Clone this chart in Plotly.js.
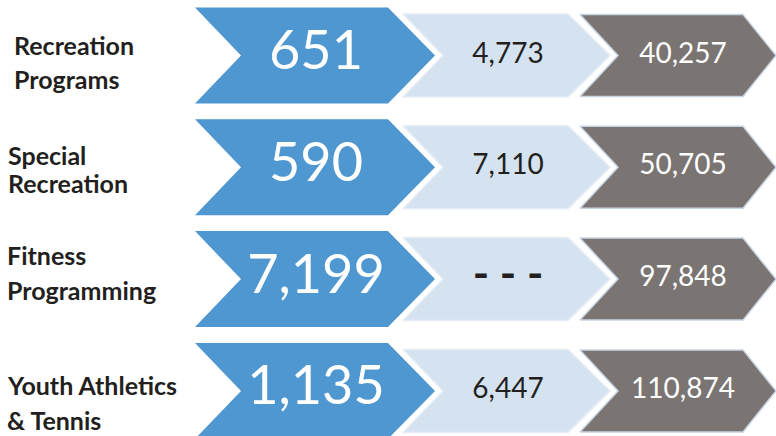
<!DOCTYPE html>
<html>
<head>
<meta charset="utf-8">
<script src="https://cdn.plot.ly/plotly-3.0.1.min.js"></script>
<style>
html,body{margin:0;padding:0;background:#fff;}
#chart{width:776px;height:436px;}
</style>
</head>
<body>
<div id="chart"></div>
<script>
// ---- data ----
var categories = ["Recreation<br>Programs", "Special<br>Recreation", "Fitness<br>Programming", "Youth Athletics<br>& Tennis"];
var stage1 = [651, 590, 7199, 1135];
var stage2 = [4773, 7110, null, 6447];
var stage3 = [40257, 50705, 97848, 110874];

// ---- layout constants (geometry / style, not data) ----
var W = 776, H = 436;
var row0 = 55.5, pitch = 111.8;
// column chevron geometry: left x, notch depth, body right x, tip x, half height
var cols = [
  {x0: 195, notch: 46, x1: 388, tip: 435, hh: 48, fill: '#4F97D1', line: '#4F97D1', lw: 0},
  {x0: 403, notch: 40, x1: 568, tip: 610, hh: 41.5, fill: '#D5E2F0', line: '#E6EDF6', lw: 1.5},
  {x0: 580, notch: 38, x1: 743, tip: 776, hh: 41, fill: '#7A7472', line: '#C9D4E2', lw: 1.5}
];
var textX = [316, 508, 683];
var labelX = [12, 6, 5, 5];
var labelMid = [14.5, 10, 1.5, 19.5];
var labelGap = [34, 28, 35, 35];
var LABEL_SIZE = 25;

function fmt(v){ return v === null ? '<b>-\u00A0-\u00A0-</b>' : v.toLocaleString('en-US'); }
function cy(i){ return row0 + i * pitch; }

var traces = [];
cols.forEach(function(c){
  var xs = [], ys = [];
  for (var i = 0; i < categories.length; i++) {
    var y = cy(i);
    xs.push(c.x0, c.x1, c.tip, c.x1, c.x0, c.x0 + c.notch, c.x0, null);
    ys.push(y - c.hh, y - c.hh, y, y + c.hh, y + c.hh, y, y - c.hh, null);
  }
  traces.push({
    x: xs, y: ys, type: 'scatter', mode: 'lines', fill: 'toself',
    fillcolor: c.fill, line: {color: c.line, width: c.lw}, hoverinfo: 'skip', showlegend: false
  });
});

var series = [stage1, stage2, stage3];
var fonts = [
  {family: 'Lato', size: 54, color: '#FFFFFF'},
  {family: 'Lato', size: 28, color: '#231F20'},
  {family: 'Lato', size: 28, color: '#FFFFFF'}
];
series.forEach(function(s, k){
  var present = s.map(function(v){ return v !== null; });
  // numbers
  traces.push({
    x: s.map(function(){ return textX[k]; }),
    y: s.map(function(v, i){ return cy(i); }),
    text: s.map(function(v){ return v === null ? '' : fmt(v); }),
    type: 'scatter', mode: 'text', textposition: 'middle center',
    textfont: fonts[k], hoverinfo: 'skip', showlegend: false, cliponaxis: false
  });
  // missing-value placeholder
  if (present.indexOf(false) >= 0) {
    traces.push({
      x: s.map(function(){ return textX[k]; }),
      y: s.map(function(v, i){ return cy(i) - 1; }),
      text: s.map(function(v){ return v === null ? fmt(v) : ''; }),
      type: 'scatter', mode: 'text', textposition: 'middle center',
      textfont: {family: 'Lato', size: 44, color: '#231F20'},
      hoverinfo: 'skip', showlegend: false, cliponaxis: false
    });
  }
});

var annotations = [];
categories.forEach(function(lab, i){
  var lines = lab.split('<br>');
  var mid = cy(i) + labelMid[i];
  lines.forEach(function(t, j){
    var baseline = mid + (j - (lines.length - 1) / 2) * labelGap[i];
    annotations.push({
      x: labelX[i], y: baseline - 0.33 * LABEL_SIZE, xref: 'x', yref: 'y',
      text: t, showarrow: false, xanchor: 'left', yanchor: 'middle',
      font: {family: 'Lato', size: LABEL_SIZE, color: '#231F20', weight: 'bold'}
    });
  });
});

var layout = {
  width: W, height: H,
  margin: {l: 0, r: 0, t: 0, b: 0},
  paper_bgcolor: '#FFFFFF', plot_bgcolor: '#FFFFFF',
  xaxis: {range: [0, W], visible: false, fixedrange: true},
  yaxis: {range: [H, 0], visible: false, fixedrange: true},
  annotations: annotations,
  showlegend: false
};

Plotly.newPlot('chart', traces, layout, {displayModeBar: false, staticPlot: true});
</script>
</body>
</html>
